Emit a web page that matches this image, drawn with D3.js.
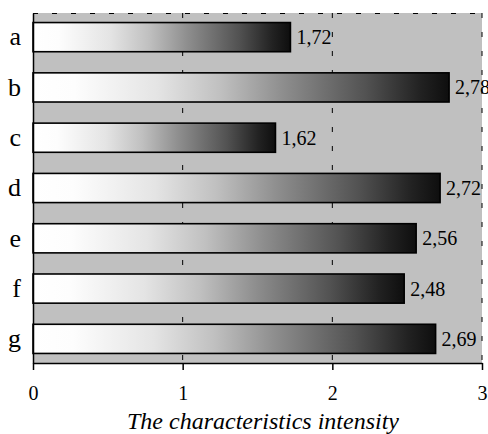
<!DOCTYPE html>
<html>
<head>
<meta charset="utf-8">
<script src="https://cdn.jsdelivr.net/npm/d3@7"></script>
<style>
  html, body { margin: 0; padding: 0; background: #fff; }
  svg { display: block; }
  text { font-family: "Liberation Serif", "Times New Roman", Times, serif; fill: #000; }
</style>
</head>
<body>
<svg id="chart" width="488" height="434"></svg>
<script>
const categories = ["a", "b", "c", "d", "e", "f", "g"];
const values = [1.72, 2.78, 1.62, 2.72, 2.56, 2.48, 2.69];
const valueLabels = ["1,72", "2,78", "1,62", "2,72", "2,56", "2,48", "2,69"];
const xTicks = [0, 1, 2, 3];
const xTickLabels = ["0", "1", "2", "3"];
const xTitle = "The characteristics intensity";

const W = 488, H = 434;
const margin = { left: 33, right: 6, top: 13, bottom: 71 };
const svg = d3.select("#chart");

const x = d3.scaleLinear().domain([0, 3]).range([margin.left, W - margin.right]);
const y = d3.scaleBand().domain(categories).range([margin.top, H - margin.bottom])
  .paddingInner(0.42).paddingOuter(0.19);

// gradient
const defs = svg.append("defs");
const grad = defs.append("linearGradient").attr("id", "barGrad")
  .attr("x1", "0%").attr("x2", "100%").attr("y1", "0%").attr("y2", "0%");
[[0, "#ffffff"], [0.1, "#fdfdfd"], [0.3, "#e4e4e4"], [0.45, "#c0c0c0"],
 [0.6, "#8e8e8e"], [0.8, "#525252"], [0.93, "#222222"], [1, "#0e0e0e"]]
  .forEach(([o, c]) => grad.append("stop").attr("offset", o).attr("stop-color", c));

// plot background
svg.append("rect")
  .attr("x", x(0)).attr("y", margin.top)
  .attr("width", x(3) - x(0)).attr("height", H - margin.bottom - margin.top)
  .attr("fill", "#c0c0c0");

// gridlines (dashed)
const gridG = svg.append("g");
gridG.selectAll("line.v").data(xTicks.slice(1)).join("line")
  .attr("x1", d => x(d)).attr("x2", d => x(d))
  .attr("y1", margin.top).attr("y2", H - margin.bottom)
  .attr("stroke", "#000").attr("stroke-width", 1).attr("stroke-dasharray", "5,14");
gridG.append("line")
  .attr("x1", x(0)).attr("x2", x(3))
  .attr("y1", margin.top + 0.5).attr("y2", margin.top + 0.5)
  .attr("stroke", "#000").attr("stroke-width", 1).attr("stroke-dasharray", "5,14");

// bars
svg.append("g").selectAll("rect").data(categories).join("rect")
  .attr("x", x(0))
  .attr("y", d => y(d))
  .attr("width", (d, i) => x(values[i]) - x(0))
  .attr("height", y.bandwidth())
  .attr("fill", "url(#barGrad)")
  .attr("stroke", "#000").attr("stroke-width", 1.6);

// value labels
svg.append("g").selectAll("text").data(categories).join("text")
  .attr("x", (d, i) => x(values[i]) + 6)
  .attr("y", d => y(d) + y.bandwidth() / 2)
  .attr("dy", "0.35em")
  .style("font-size", "20px")
  .text((d, i) => valueLabels[i]);

// x axis
const xAxis = d3.axisBottom(x).tickValues(xTicks)
  .tickFormat((d, i) => xTickLabels[i]).tickSize(7).tickSizeOuter(0).tickPadding(16);
const gx = svg.append("g").attr("transform", `translate(0,${H - margin.bottom})`).call(xAxis);
gx.attr("font-family", null).attr("font-size", null);
gx.select(".domain").attr("stroke", "#000").attr("stroke-width", 1.5);
gx.selectAll(".tick line").attr("stroke", "#000").attr("stroke-width", 1.5);
gx.selectAll(".tick text").style("font-size", "20px").attr("fill", "#000");

// y axis
const yAxis = d3.axisLeft(y).tickSize(0).tickPadding(12);
const gy = svg.append("g").attr("transform", `translate(${x(0)},0)`).call(yAxis);
gy.attr("font-family", null).attr("font-size", null);
gy.select(".domain").attr("stroke", "#000").attr("stroke-width", 1.5);
gy.selectAll(".tick text").style("font-size", "26px").attr("fill", "#000");

// title
svg.append("text")
  .attr("x", 263).attr("y", 429)
  .attr("text-anchor", "middle")
  .style("font-size", "24px").style("font-style", "italic")
  .text(xTitle);
</script>
</body>
</html>
